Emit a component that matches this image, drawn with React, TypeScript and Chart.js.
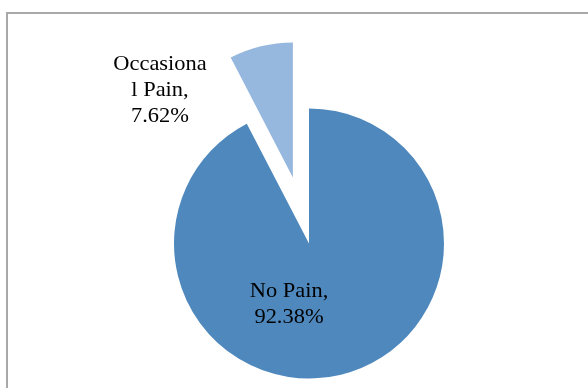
import React, { useEffect, useRef } from "react";
import { Chart, registerables } from "chart.js";

Chart.register(...registerables);

const categories = ["No Pain", "Occasional Pain"];
const values = [92.38, 7.62];
const colors = ["#4F88BD", "#96B7DE"];
const labelLines = [
  ["No Pain,", "92.38%"],
  ["Occasiona", "l Pain,", "7.62%"],
];
// label anchor offsets relative to pie centre (layout only)
const labelOffsets = [
  [-20, 53],
  [-149, -174],
];
const explodeIndex = 1;
const explodeDistance = 68;

const explodePlugin = {
  id: "explode",
  afterDatasetsUpdate(chart: any) {
    const meta = chart.getDatasetMeta(0);
    const arc = meta.data[explodeIndex];
    if (!arc) return;
    const mid = (arc.startAngle + arc.endAngle) / 2;
    arc.x += Math.cos(mid) * explodeDistance;
    arc.y += Math.sin(mid) * explodeDistance;
  },
};

const framePlugin = {
  id: "frame",
  beforeDraw(chart: any) {
    const ctx = chart.ctx;
    ctx.save();
    ctx.fillStyle = "#ffffff";
    ctx.fillRect(0, 0, chart.width, chart.height);
    ctx.strokeStyle = "#a9a9a9";
    ctx.lineWidth = 2;
    ctx.strokeRect(7, 13, 800, 600);
    ctx.restore();
  },
};

const labelPlugin = {
  id: "pieLabels",
  afterDatasetsDraw(chart: any) {
    const ctx = chart.ctx;
    const meta = chart.getDatasetMeta(0);
    const base = meta.data[0];
    const cx = base.x;
    const cy = base.y;
    ctx.save();
    ctx.fillStyle = "#000000";
    ctx.font = '22px "Liberation Serif", "Times New Roman", serif';
    ctx.textAlign = "center";
    ctx.textBaseline = "alphabetic";
    labelLines.forEach((lines, i) => {
      const [ox, oy] = labelOffsets[i];
      lines.forEach((line, j) => {
        ctx.save();
        ctx.translate(cx + ox, cy + oy + j * 26);
        ctx.scale(1.02, 1);
        ctx.fillText(line, 0, 0);
        ctx.restore();
      });
    });
    ctx.restore();
  },
};

export default function App() {
  const ref = useRef<HTMLCanvasElement | null>(null);
  useEffect(() => {
    if (!ref.current) return;
    const chart = new Chart(ref.current, {
      type: "pie",
      data: {
        labels: categories,
        datasets: [
          {
            data: values,
            backgroundColor: colors,
            borderWidth: 0,
          },
        ],
      },
      options: {
        responsive: false,
        animation: false,
        radius: 135,
        layout: { padding: { left: 30, right: 0, top: 99, bottom: 0 } },
        plugins: {
          legend: { display: false },
          tooltip: { enabled: false },
        },
      } as any,
      plugins: [framePlugin, explodePlugin, labelPlugin],
    });
    return () => chart.destroy();
  }, []);
  return (
    <div style={{ position: "absolute", left: 0, top: 0, width: 588, height: 388 }}>
      <canvas ref={ref} width={588} height={388} style={{ display: "block" }} />
    </div>
  );
}
